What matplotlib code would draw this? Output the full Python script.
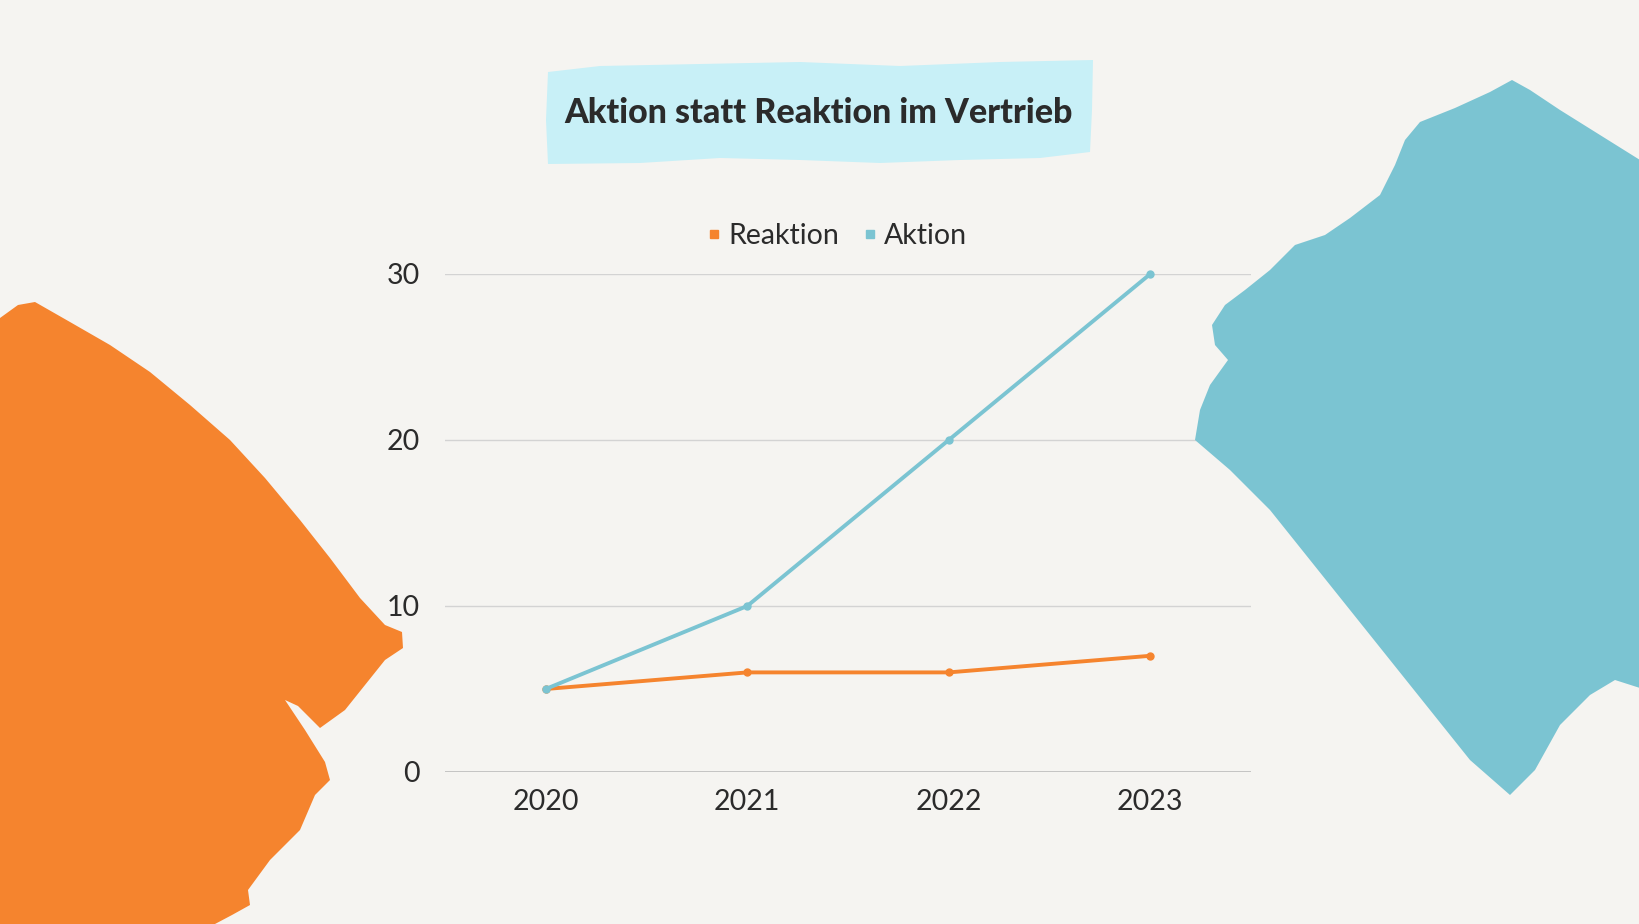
import numpy as np
import matplotlib.pyplot as plt
from matplotlib.patches import Polygon
from matplotlib.lines import Line2D

# Daten
jahre = ['2020', '2021', '2022', '2023']
reaktion = [5, 6, 6, 7]
aktion = [5, 10, 20, 30]
y_ticks = [0, 10, 20, 30]

orange = '#f5842e'
blau = '#7bc4d2'
hintergrund = '#f5f4f1'
text_farbe = '#2b2b2b'

W, H = 1640, 924
fig = plt.figure(figsize=(W / 100, H / 100), dpi=100, facecolor=hintergrund)


def px(punkte):
    # Pixelkoordinaten (oben links = 0,0) -> Figurkoordinaten
    arr = np.array(punkte, dtype=float)
    return np.column_stack([arr[:, 0] / W, 1 - arr[:, 1] / H])


# Pinselstrich links (orange)
orange_form = [(0, 318), (18, 305), (35, 302), (70, 322), (110, 345), (150, 372), (190, 405),
               (230, 440), (265, 478), (300, 520), (330, 558), (360, 598), (385, 625), (402, 632),
               (403, 648), (385, 660), (365, 685), (345, 710), (320, 728), (298, 706), (285, 700),
               (305, 730), (325, 762), (330, 780), (315, 795), (300, 830), (270, 860), (248, 890),
               (250, 905), (232, 915), (215, 924), (0, 924)]
fig.patches.append(Polygon(px(orange_form), closed=True, transform=fig.transFigure,
                           facecolor=orange, edgecolor='none', zorder=0))

# Pinselstrich rechts (blau)
blau_form = [(1512, 80), (1490, 92), (1455, 108), (1420, 122), (1405, 140), (1395, 165),
             (1380, 195), (1350, 218), (1325, 235), (1295, 245), (1270, 270), (1245, 290),
             (1225, 305), (1212, 325), (1215, 345), (1228, 360), (1210, 385), (1200, 410),
             (1195, 440), (1230, 470), (1270, 510), (1310, 560), (1350, 610), (1390, 660),
             (1430, 710), (1470, 760), (1510, 795), (1535, 770), (1560, 725), (1590, 695),
             (1615, 680), (1640, 688), (1640, 160), (1600, 135), (1560, 110), (1530, 90)]
fig.patches.append(Polygon(px(blau_form), closed=True, transform=fig.transFigure,
                           facecolor=blau, edgecolor='none', zorder=0))

# Titelfeld
titel_form = [(548, 72), (600, 66), (700, 64), (800, 62), (900, 66), (1000, 62), (1093, 60),
              (1092, 110), (1090, 152), (1040, 158), (960, 160), (880, 163), (800, 160),
              (720, 158), (640, 163), (548, 164), (546, 120)]
fig.patches.append(Polygon(px(titel_form), closed=True, transform=fig.transFigure,
                           facecolor='#c8f0f7', edgecolor='none', zorder=1))
fig.text(819 / W, 1 - 113 / H, 'Aktion statt Reaktion im Vertrieb', ha='center', va='center',
         fontsize=24.5, fontweight='black', family='Lato', color=text_farbe, zorder=2)

# Diagramm
ax = fig.add_axes([445 / W, 1 - 772 / H, 806 / W, 498 / H])
ax.set_facecolor('none')
x = np.arange(len(jahre))
ax.plot(x, reaktion, color=orange, lw=2.8, marker='o', ms=5, clip_on=False, zorder=3)
ax.plot(x, aktion, color=blau, lw=2.8, marker='o', ms=5, clip_on=False, zorder=4)

ax.set_xlim(-0.5, 3.5)
ax.set_ylim(0, 30)
ax.set_xticks(x, jahre)
ax.set_yticks(y_ticks)
ax.grid(axis='y', color='#d3d3d3', lw=1)
ax.set_axisbelow(True)
for s in ax.spines.values():
    s.set_visible(False)
ax.tick_params(axis='both', length=0, labelsize=20.5, labelcolor=text_farbe)
ax.tick_params(axis='y', pad=18)
ax.tick_params(axis='x', pad=12)
for lbl in ax.get_xticklabels() + ax.get_yticklabels():
    lbl.set_family('Lato')
ax.axhline(0, color='#bdbdbd', lw=1.2, zorder=1)

# Legende
handles = [Line2D([], [], ls='none', marker='s', ms=6, color=orange),
           Line2D([], [], ls='none', marker='s', ms=6, color=blau)]
fig.legend(handles, ['Reaktion', 'Aktion'], loc='center', bbox_to_anchor=(832 / W, 1 - 236 / H),
           ncol=2, frameon=False, prop={'family': 'Lato', 'size': 20.5},
           handletextpad=-0.1, handlelength=1.2, columnspacing=0.5, labelcolor=text_farbe)

fig.savefig('out.png', dpi=100, facecolor=hintergrund)
